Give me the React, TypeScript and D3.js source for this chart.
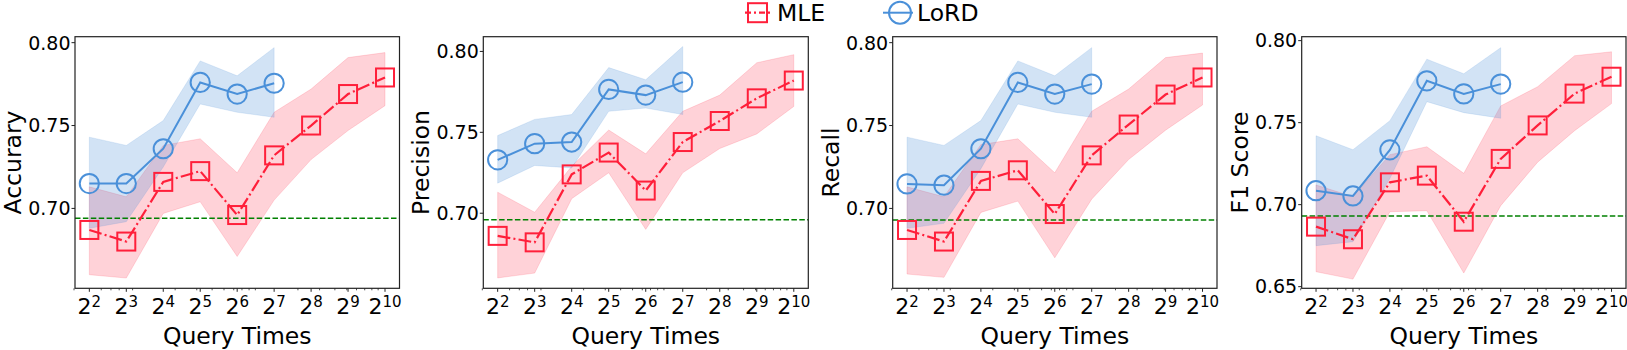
import React from "react";
import * as d3 from "d3";

const exps = [2, 3, 4, 5, 6, 7, 8, 9, 10];
const lordExps = [2, 3, 4, 5, 6, 7];
const panelNames = ["Accurary", "Precision", "Recall", "F1 Score"];
const seriesNames = ["MLE", "LoRD"];

const accLoRD = [0.715, 0.715, 0.736, 0.776, 0.769, 0.7755];
const accLoRDHi = [0.743, 0.738, 0.753, 0.789, 0.78, 0.797];
const accLoRDLo = [0.688, 0.692, 0.725, 0.763, 0.758, 0.755];
const accMLE = [0.687, 0.68, 0.716, 0.7225, 0.696, 0.732, 0.75, 0.769, 0.779];
const accMLEHi = [0.713, 0.707, 0.738, 0.742, 0.7215, 0.758, 0.772, 0.791, 0.794];
const accMLELo = [0.66, 0.658, 0.697, 0.704, 0.671, 0.705, 0.7295, 0.747, 0.762];

const precLoRD = [0.733, 0.743, 0.744, 0.7765, 0.773, 0.781];
const precLoRDHi = [0.748, 0.758, 0.761, 0.79, 0.7825, 0.803];
const precLoRDLo = [0.7186, 0.7295, 0.728, 0.763, 0.765, 0.761];
const precMLE = [0.686, 0.682, 0.724, 0.7375, 0.714, 0.744, 0.757, 0.771, 0.782];
const precMLEHi = [0.713, 0.7006, 0.729, 0.7514, 0.7367, 0.763, 0.773, 0.793, 0.798];
const precMLELo = [0.66, 0.663, 0.709, 0.725, 0.69, 0.725, 0.74, 0.749, 0.766];

const recLoRD = [0.7148, 0.714, 0.736, 0.776, 0.769, 0.775];
const recLoRDHi = [0.743, 0.738, 0.753, 0.789, 0.78, 0.797];
const recLoRDLo = [0.688, 0.691, 0.724, 0.763, 0.758, 0.755];
const recMLE = [0.687, 0.68, 0.7166, 0.723, 0.6966, 0.732, 0.7506, 0.7687, 0.779];
const recMLEHi = [0.713, 0.707, 0.7385, 0.742, 0.7215, 0.7586, 0.772, 0.791, 0.7937];
const recMLELo = [0.6604, 0.6584, 0.6976, 0.7044, 0.6702, 0.7056, 0.7295, 0.7472, 0.7624];

const f1LoRD = [0.7085, 0.7053, 0.7334, 0.7755, 0.7675, 0.7735];
const f1LoRDHi = [0.742, 0.7335, 0.7512, 0.7887, 0.7798, 0.7957];
const f1LoRDLo = [0.675, 0.6774, 0.716, 0.7628, 0.7561, 0.7527];
const f1MLE = [0.6866, 0.6789, 0.7136, 0.7177, 0.6896, 0.7279, 0.7483, 0.7677, 0.778];
const f1MLEHi = [0.712, 0.7049, 0.7305, 0.7353, 0.7191, 0.7602, 0.7719, 0.7908, 0.7932];
const f1MLELo = [0.6591, 0.6546, 0.6957, 0.6963, 0.6583, 0.6994, 0.7259, 0.7451, 0.7616];

const baselines = [0.694, 0.6959, 0.693, 0.6931];
const yTicksA = [0.7, 0.75, 0.8];
const yTicksF1 = [0.65, 0.7, 0.75, 0.8];

const RED = "#ff1f3a";
const BLUE = "#4a90d9";
const FONT = "DejaVu Sans, sans-serif";

const panels = [
  { name: panelNames[0], left: 75, right: 399.5, yDom: [0.6518, 0.8036], ticks: yTicksA, lord: [accLoRD, accLoRDLo, accLoRDHi], mle: [accMLE, accMLELo, accMLEHi], base: baselines[0] },
  { name: panelNames[1], left: 483.3, right: 808.3, yDom: [0.6536, 0.8091], ticks: yTicksA, lord: [precLoRD, precLoRDLo, precLoRDHi], mle: [precMLE, precMLELo, precMLEHi], base: baselines[1] },
  { name: panelNames[2], left: 892.7, right: 1217, yDom: [0.6518, 0.8036], ticks: yTicksA, lord: [recLoRD, recLoRDLo, recLoRDHi], mle: [recMLE, recMLELo, recMLEHi], base: baselines[2] },
  { name: panelNames[3], left: 1301.7, right: 1626, yDom: [0.649, 0.8024], ticks: yTicksF1, lord: [f1LoRD, f1LoRDLo, f1LoRDHi], mle: [f1MLE, f1MLELo, f1MLEHi], base: baselines[3] },
];

const TOP = 36.7;
const BOTTOM = 288.3;
const minorVals: number[] = [];
[1, 10, 100].forEach((dec) => {
  for (let s = 2; s <= 9; s++) {
    const v = s * dec;
    if (v > 2.9 && v < 1400 && ![4, 8, 16, 32, 64, 128, 256, 512, 1024].includes(v)) minorVals.push(v);
  }
});

function Panel({ p }: { p: any }) {
  const x = d3.scaleLog().base(2).domain([Math.pow(2, 1.612), Math.pow(2, 10.392)]).range([p.left, p.right]);
  const y = d3.scaleLinear().domain(p.yDom).range([BOTTOM, TOP]);
  const xv = (e: number) => x(Math.pow(2, e));
  const mkLine = (es: number[], vals: number[]) =>
    d3.line<number>().x((_, i) => xv(es[i])).y((v) => y(v))(vals) || "";
  const mkArea = (es: number[], lo: number[], hi: number[]) =>
    d3.area<number>().x((_, i) => xv(es[i])).y0((_, i) => y(lo[i])).y1((_, i) => y(hi[i]))(lo) || "";
  const midX = (p.left + p.right) / 2;
  const midY = (TOP + BOTTOM) / 2;
  const ylx = p.left - 54;
  return (
    <g>
      <path d={mkArea(exps, p.mle[1], p.mle[2])} fill={RED} fillOpacity={0.2} stroke={RED} strokeOpacity={0.15} strokeWidth={1} />
      <path d={mkArea(lordExps, p.lord[1], p.lord[2])} fill={BLUE} fillOpacity={0.25} stroke={BLUE} strokeOpacity={0.15} strokeWidth={1} />
      <line x1={p.left} x2={p.right} y1={y(p.base)} y2={y(p.base)} stroke="#008000" strokeWidth={1.5} strokeDasharray="5.5,2.4" />
      <path d={mkLine(exps, p.mle[0])} fill="none" stroke={RED} strokeWidth={2.2} strokeDasharray="12.8,3.2,2,3.2" />
      {p.mle[0].map((v: number, i: number) => (
        <rect key={i} x={xv(exps[i]) - 9} y={y(v) - 9} width={18} height={18} fill="none" stroke={RED} strokeWidth={2} />
      ))}
      <path d={mkLine(lordExps, p.lord[0])} fill="none" stroke={BLUE} strokeWidth={2} />
      {p.lord[0].map((v: number, i: number) => (
        <circle key={i} cx={xv(lordExps[i])} cy={y(v)} r={9.6} fill="none" stroke={BLUE} strokeWidth={2} />
      ))}
      <rect x={p.left} y={TOP} width={p.right - p.left} height={BOTTOM - TOP} fill="none" stroke="#222" strokeWidth={1.2} />
      {p.ticks.map((t: number) => (
        <g key={t}>
          <line x1={p.left - 3.5} x2={p.left} y1={y(t)} y2={y(t)} stroke="#222" strokeWidth={1} />
          <text x={p.left - 4.5} y={y(t)} dy="0.36em" textAnchor="end" fontSize={19} fontFamily={FONT} fill="#000">
            {d3.format(".2f")(t)}
          </text>
        </g>
      ))}
      {minorVals.map((v) => (
        <line key={"m" + v} x1={x(v)} x2={x(v)} y1={BOTTOM} y2={BOTTOM + 2} stroke="#222" strokeWidth={0.8} />
      ))}
      {exps.map((e) => (
        <g key={"x" + e}>
          <line x1={xv(e)} x2={xv(e)} y1={BOTTOM} y2={BOTTOM + 3.5} stroke="#222" strokeWidth={1} />
          <text x={xv(e)} y={314} textAnchor="middle" fontSize={22} fontFamily={FONT} fill="#000">
            2<tspan fontSize={15} dy={-7.5}>{e}</tspan>
          </text>
        </g>
      ))}
      <text x={midX} y={344} textAnchor="middle" fontSize={23.5} fontFamily={FONT} fill="#000">Query Times</text>
      <text transform={`translate(${ylx},${midY}) rotate(-90)`} textAnchor="middle" fontSize={23.5} fontFamily={FONT} fill="#000">
        {p.name}
      </text>
    </g>
  );
}

export default function App() {
  return (
    <svg width={1627} height={350} style={{ position: "absolute", left: 0, top: 0, background: "#fff" }}>
      <rect x={0} y={0} width={1627} height={350} fill="#fff" />
      {panels.map((p, i) => (
        <Panel key={i} p={p} />
      ))}
      <g>
        <line x1={745} x2={770} y1={12.7} y2={12.7} stroke={RED} strokeWidth={2.2} strokeDasharray="6,3,2,3" />
        <rect x={748} y={3.2} width={19} height={19} fill="none" stroke={RED} strokeWidth={2} />
        <text x={777} y={21} fontSize={23.5} fontFamily={FONT} fill="#000">{seriesNames[0]}</text>
        <line x1={883} x2={913} y1={12.7} y2={12.7} stroke={BLUE} strokeWidth={2} />
        <circle cx={900} cy={12.7} r={11} fill="none" stroke={BLUE} strokeWidth={2} />
        <text x={917} y={21} fontSize={23.5} fontFamily={FONT} fill="#000">{seriesNames[1]}</text>
      </g>
    </svg>
  );
}
